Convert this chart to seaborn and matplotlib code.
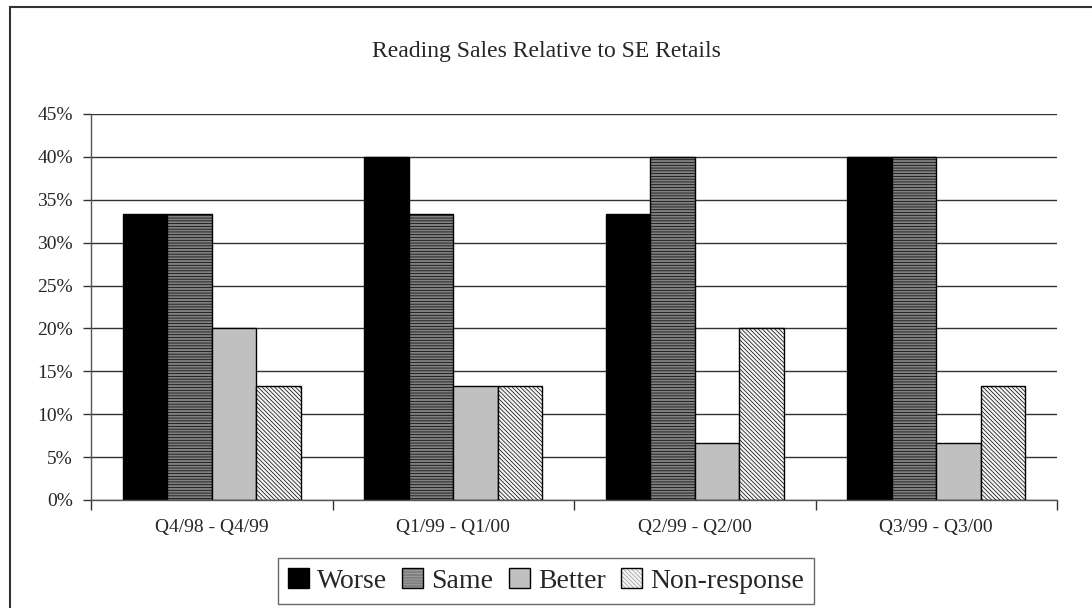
import numpy as np
import pandas as pd
import matplotlib
matplotlib.use("Agg")
import matplotlib.pyplot as plt
import matplotlib.patches as mpatches
import seaborn as sns

# data (shares of respondents)
periods = ["Q4/98 - Q4/99", "Q1/99 - Q1/00", "Q2/99 - Q2/00", "Q3/99 - Q3/00"]
responses = ["Worse", "Same", "Better", "Non-response"]
worse = [0.333, 0.400, 0.333, 0.400]
same = [0.333, 0.333, 0.400, 0.400]
better = [0.200, 0.133, 0.067, 0.067]
non_response = [0.133, 0.133, 0.200, 0.133]

df = pd.DataFrame({
    "period": periods * 4,
    "response": np.repeat(responses, len(periods)),
    "share": worse + same + better + non_response,
})

sns.set_style("white")
plt.rcParams['font.family'] = ['Liberation Serif', 'DejaVu Serif']
plt.rcParams['hatch.linewidth'] = 0.5

face = {"Worse": "#000000", "Same": "#808080", "Better": "#c0c0c0", "Non-response": "#f4f4f4"}
hatch = {"Worse": "", "Same": "------", "Better": "", "Non-response": "\\\\\\\\\\\\\\\\"}
hatch_col = {"Worse": "#000000", "Same": "#a8a8a8", "Better": "#c0c0c0", "Non-response": "#9a9a9a"}

fig = plt.figure(figsize=(10.92, 6.08), dpi=100)
ax = fig.add_axes([91 / 1092, 1 - 500 / 608, (1057 - 91) / 1092, (500 - 114) / 608])

sns.barplot(data=df, x="period", y="share", hue="response", hue_order=responses,
            order=periods, palette=face, width=0.735, gap=0, ax=ax,
            edgecolor="black", linewidth=1.0, legend=False)

for cont, resp in zip(ax.containers, responses):
    for bar in cont:
        bar.set_hatch(hatch[resp])
        bar._hatch_color = matplotlib.colors.to_rgba(hatch_col[resp])
        bar.set_edgecolor("black")

ax.set_ylim(0, 0.45)
ax.set_xlim(-0.5, 3.5)
ax.set_yticks(np.arange(0, 0.451, 0.05))
ax.set_yticklabels([f"{int(round(v * 100))}%" for v in np.arange(0, 0.451, 0.05)], fontsize=14)
ax.yaxis.grid(True, color="#333333", linewidth=1.0)
ax.set_axisbelow(True)
ax.set_xlabel("")
ax.set_ylabel("")
ax.tick_params(axis="x", which="major", length=0, pad=14, labelsize=14)
ax.set_xticks(np.arange(-0.5, 3.6, 1.0), minor=True)
ax.tick_params(axis="x", which="minor", length=7, width=1, color="#333333", direction="out")
ax.tick_params(axis="y", length=6, width=1, color="#333333", direction="out", pad=7)
ax.xaxis.set_ticks_position("bottom")
ax.yaxis.set_ticks_position("left")
for s in ["top", "right"]:
    ax.spines[s].set_visible(False)
for s in ["left", "bottom"]:
    ax.spines[s].set_color("#555555")
    ax.spines[s].set_linewidth(1.0)

fig.text(0.5, 1 - 52 / 608, "Reading Sales Relative to SE Retails", ha="center", va="center", fontsize=17)

handles = []
for resp in responses:
    p = mpatches.Patch(facecolor=face[resp], edgecolor="black", hatch=hatch[resp], linewidth=1.0)
    p._hatch_color = matplotlib.colors.to_rgba(hatch_col[resp])
    handles.append(p)
leg = fig.legend(handles, responses, ncol=4, loc="center", bbox_to_anchor=(546 / 1092, 1 - 581 / 608),
                 fontsize=20, frameon=True, fancybox=False, handlelength=0.75, handleheight=0.75,
                 handletextpad=0.3, columnspacing=0.55, borderpad=0.35, borderaxespad=0)
leg.get_frame().set_edgecolor("#444444")
leg.get_frame().set_linewidth(1.0)

# outer chart border (cut by the image edge on the right and bottom)
fig.patches.append(mpatches.Rectangle((10 / 1092, -0.05), 1.2, 1 - 7 / 608 + 0.05,
                                      transform=fig.transFigure, fill=False,
                                      edgecolor="#333333", linewidth=1.5))

fig.savefig("out.png", dpi=100)
